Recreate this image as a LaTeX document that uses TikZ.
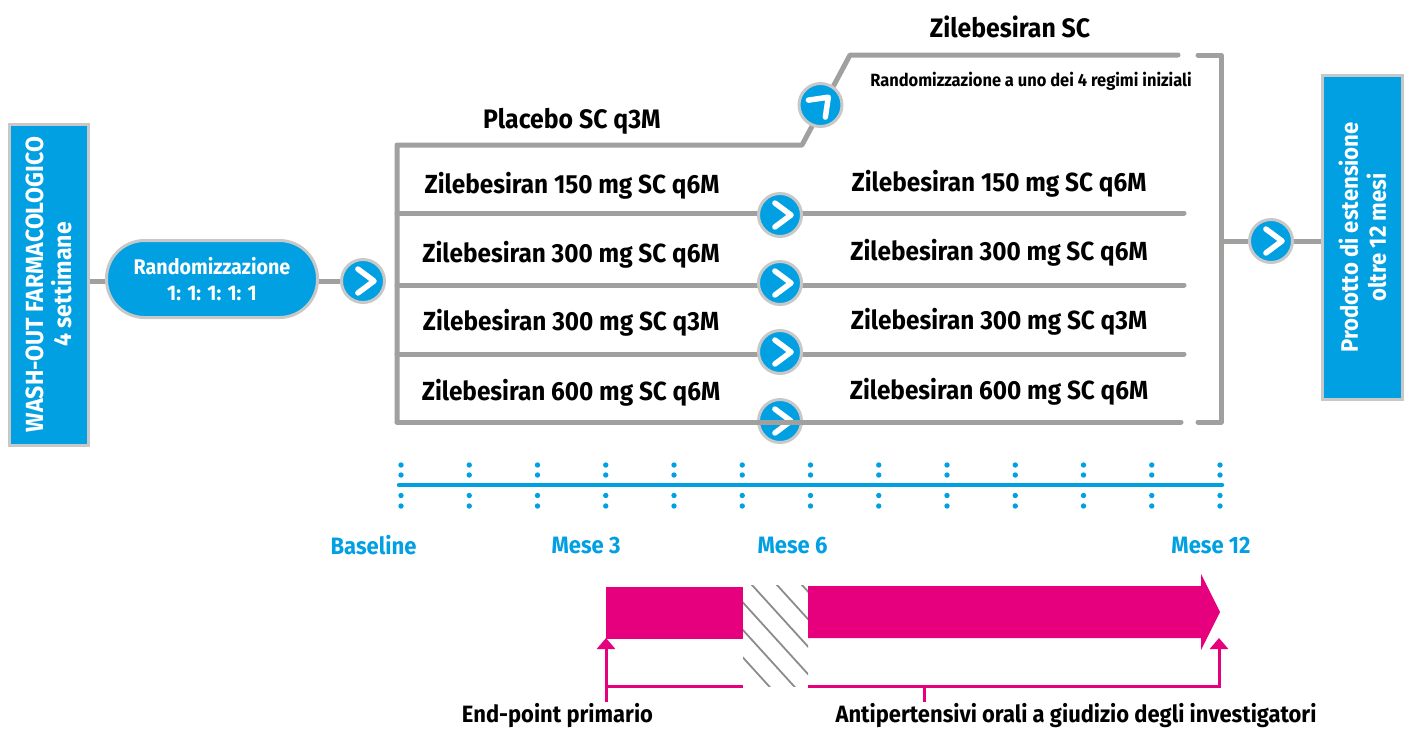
\documentclass[tikz,border=0pt]{standalone}
\usepackage{fontspec}
\setmainfont[FakeStretch=0.93]{Fira Sans}
\usepackage{tikz}
\usetikzlibrary{arrows.meta,positioning,calc}
\definecolor{ASHblue}{HTML}{00A0E3}
\definecolor{ASHgrey}{HTML}{A0A09F}
\definecolor{ASHring}{HTML}{C8C8C8}
\definecolor{ASHpink}{HTML}{E6007E}
\tikzset{
  bluebox/.style={draw=ASHring, line width=3pt, fill=ASHblue, text=white, align=center},
  chevline/.style={draw=white, line width=5.5pt, line cap=round, line join=round},
  chevnode/.style={circle, draw=ASHring, line width=3pt, fill=ASHblue, inner sep=0pt, minimum size=43pt,
    path picture={\draw[chevline, shift={(path picture bounding box.center)}] (#1+113:13pt) -- (#1:11pt) -- (#1-113:13pt);}},
  chevnode/.default=0,
  arm/.style={draw=ASHgrey, line width=5pt, line cap=round, line join=round},
  armlabel/.style={font=\bfseries\fontsize{26.2}{30}\selectfont, inner sep=0pt},
  timelabel/.style={font=\bfseries\fontsize{23.7}{28}\selectfont, text=ASHblue, inner sep=0pt},
  endlabel/.style={font=\bfseries\fontsize{23.6}{28}\selectfont, inner sep=0pt},
  pinkline/.style={draw=ASHpink, line width=3pt},
  pinkup/.style={pinkline, -{Triangle[length=11pt,width=18pt]}},
  hatchline/.style={draw=black!45, line width=1.8pt}
}
\begin{document}
\begin{tikzpicture}[x=1pt,y=-1pt]
\useasboundingbox (0,0) rectangle (1406,729);
% left part
\node[bluebox, rotate=90, minimum width=321pt, minimum height=79pt, font=\bfseries\fontsize{24.8}{28}\selectfont] (wash) at (49,284.5) {WASH-OUT FARMACOLOGICO\\4 settimane};
\node[bluebox, rounded corners=38pt, minimum width=211pt, minimum height=77pt, font=\bfseries\fontsize{21.2}{26}\selectfont] (rand) at (212,279) {Randomizzazione\\1: 1: 1: 1: 1};
\node[chevnode] (chev0) at (363,281) {};
\node[bluebox, rotate=90, minimum width=324pt, minimum height=80pt, font=\bfseries\fontsize{23.8}{28}\selectfont] (ext) at (1362.5,237.5) {Prodotto di estensione\\oltre 12 mesi};
\node[chevnode] (chevout) at (1271,241) {};
% arms
\coordinate (top) at (397,145);
\coordinate (bot) at (397,422);
\coordinate (kneeA) at (802,145);
\coordinate (kneeB) at (850,55);
\coordinate (endtop) at (1178,55);
\coordinate (arm1) at (397,213);
\coordinate (arm2) at (397,285);
\coordinate (arm3) at (397,354);
\coordinate (end1) at (1184,213);
\coordinate (end2) at (1184,285);
\coordinate (end3) at (1184,354);
\coordinate (endbot) at (1181,422);
\coordinate (brA) at (1198,55);
\coordinate (brB) at (1221,55);
\coordinate (brC) at (1221,422);
\coordinate (brD) at (1198,422);
\coordinate (brmid) at (1221,241);
\draw[arm, line cap=butt] (wash.south |- chev0) -- (rand.west |- chev0);
\draw[arm, line cap=butt] (rand.east |- chev0) -- (chev0);
\draw[arm] (bot) -- (top) -- (kneeA) -- (kneeB) -- (endtop);
\draw[arm] (arm1) -- (end1);
\draw[arm] (arm2) -- (end2);
\draw[arm] (arm3) -- (end3);
\draw[arm] (brA) -- (brB) -- (brC) -- (brD);
\draw[arm, line cap=butt] (brmid) -- (chevout);
\draw[arm, line cap=butt] (chevout) -- (ext.north |- chevout);
\node[chevnode=45] (chevup) at (820.5,105) {};
\node[chevnode] (chev1) at (780,215) {};
\node[chevnode] (chev2) at (780,283) {};
\node[chevnode] (chev3) at (780,352) {};
\node[chevnode] (chev4) at (780,421) {};
\draw[arm] (bot) -- (endbot);
% arm labels
\node[armlabel, font=\bfseries\fontsize{26.7}{30}\selectfont] (plac) at (572,121) {Placebo SC q3M};
\node[armlabel, font=\bfseries\fontsize{26.7}{30}\selectfont] (zsc) at (1010,27) {Zilebesiran SC};
\node[armlabel, font=\bfseries\fontsize{17.7}{20}\selectfont] (randreg) at (1031,81) {Randomizzazione a uno dei 4 regimi iniziali};
\node[armlabel] (l1) at (572,185.5) {Zilebesiran 150 mg SC q6M};
\node[armlabel] (l2) at (571,254.5) {Zilebesiran 300 mg SC q6M};
\node[armlabel] (l3) at (571,322.5) {Zilebesiran 300 mg SC q3M};
\node[armlabel] (l4) at (571,392.5) {Zilebesiran 600 mg SC q6M};
\node[armlabel] (r1) at (999,183.5) {Zilebesiran 150 mg SC q6M};
\node[armlabel] (r2) at (999,252.5) {Zilebesiran 300 mg SC q6M};
\node[armlabel] (r3) at (999,321.5) {Zilebesiran 300 mg SC q3M};
\node[armlabel] (r4) at (999,391.5) {Zilebesiran 600 mg SC q6M};
% timeline
\coordinate (tlA) at (399,485);
\coordinate (tlB) at (1222,485);
\draw[draw=ASHblue, line width=4.5pt, line cap=round] (tlA) -- (tlB);
\foreach \tx in {0,...,12}
  \foreach \ty in {465,475,495.5,506}
    \fill[ASHblue] (401+\tx*68.25,\ty) circle (2.7pt);
\node[timelabel] (base) at (373.5,545) {Baseline};
\node[timelabel] (m3) at (586,545) {Mese 3};
\node[timelabel] (m6) at (792.5,545) {Mese 6};
\node[timelabel] (m12) at (1211,545) {Mese 12};
% treatment bars
\begin{scope}
\clip (743,585) rectangle (808,686);
\foreach \hx in {0,...,5}
  \draw[hatchline] (677+\hx*25,585)+(-60,-66) -- ++(100,110);
\end{scope}
\coordinate (barA) at (606,587);
\fill[ASHpink] (barA) rectangle (743,639);
\fill[ASHpink] (808,586) -- (1201,586) -- (1201,574) -- (1220,612) -- (1201,650) -- (1201,638) -- (808,638) -- cycle;
\coordinate (upA) at (606,638);
\coordinate (upB) at (1219,638);
\coordinate (lineA) at (606,686);
\coordinate (lineB) at (743,686);
\coordinate (lineC) at (808,686);
\coordinate (lineD) at (1219,686);
\coordinate (tickA) at (606,702);
\coordinate (tickB) at (924,686);
\coordinate (tickC) at (924,702);
\draw[pinkup] (tickA) -- (upA);
\draw[pinkline] (lineA) -- (lineB);
\draw[pinkup] (lineC) -- (lineD) -- (upB);
\draw[pinkline] (tickB) -- (tickC);
\node[endlabel] (ep) at (557.5,716) {End-point primario};
\node[endlabel] (anti) at (1076,716) {Antipertensivi orali a giudizio degli investigatori};
\end{tikzpicture}
\end{document}
